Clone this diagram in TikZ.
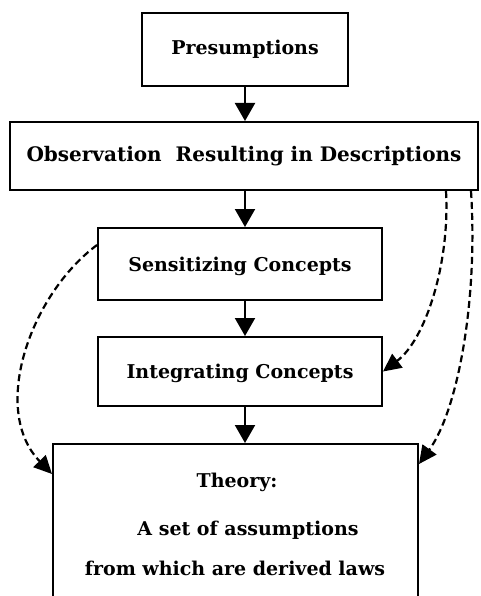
\documentclass[tikz,border=0pt]{standalone}
\usepackage{fontspec}
\setmainfont{DejaVu Serif}
\usetikzlibrary{arrows.meta}
\tikzset{
  box/.style={draw=black, line width=2pt, fill=white, inner sep=0pt,
    font=\bfseries\fontsize{19}{22}\selectfont},
  txt/.style={inner sep=0pt, font=\bfseries\fontsize{19}{22}\selectfont},
  flow/.style={draw=black, line width=2pt, -{Triangle[width=20pt,length=18pt]}},
  link/.style={draw=black, line width=2.2pt, dash pattern=on 7pt off 4pt,
    -{Triangle[width=17pt,length=18pt]}}
}
\begin{document}
\begin{tikzpicture}[x=1pt,y=-1pt]
  \useasboundingbox (0,0) rectangle (480,596);
  \clip (0,0) rectangle (480,596);
  \fill[white] (0,0) rectangle (480,596);

  % boxes of the chain
  \node[box, minimum width=206pt, minimum height=73pt] (pres) at (245,49.5) {Presumptions};
  \node[box, minimum width=468pt, minimum height=68pt, font=\bfseries\fontsize{20}{23}\selectfont] (obs) at (244,156) {Observation\ \ Resulting in Descriptions};
  \node[box, minimum width=284pt, minimum height=72pt, text depth=-2pt] (sens) at (240,264) {Sensitizing Concepts};
  \node[box, minimum width=284pt, minimum height=69pt, text depth=-2pt] (integ) at (240,371.5) {Integrating Concepts};
  \node[box, minimum width=365pt, minimum height=160pt] (theory) at (235.5,524) {};

  % text of the theory box
  \node[txt] (thtitle) at (237,482) {Theory:};
  \node[txt] (thline1) at (248,530) {A set of assumptions};
  \node[txt] (thline2) at (235,568) {from which are derived laws};

  % solid arrows down the chain
  \draw[flow] (pres.south -| 245,0) -- (obs.north -| 245,0);
  \draw[flow] (obs.south -| 245,0) -- (sens.north -| 245,0);
  \draw[flow] (sens.south -| 245,0) -- (integ.north -| 245,0);
  \draw[flow] (integ.south -| 245,0) -- (theory.north -| 245,0);

  % dashed side links
  \coordinate (s1) at ([yshift=-18pt]sens.north west);
  \coordinate (e1) at ([yshift=-31pt]theory.north west);
  \draw[link] (s1) .. controls (30,295) and (-10,410) .. (e1);

  \coordinate (s2) at ([xshift=-33pt]obs.south east);
  \draw[link] (s2) .. controls (450,265) and (425,340) .. (integ.east);

  \coordinate (s3) at ([xshift=-8pt]obs.south east);
  \coordinate (e3) at ([yshift=-21pt]theory.north east);
  \draw[link] (s3) .. controls (478,300) and (458,410) .. (e3);
\end{tikzpicture}
\end{document}
